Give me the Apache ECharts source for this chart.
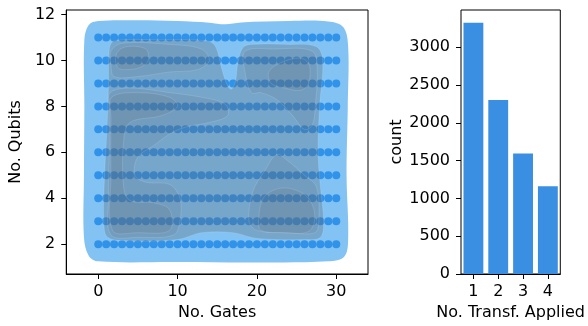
<!DOCTYPE html>
<html>
<head>
<meta charset="utf-8">
<script src="https://cdn.jsdelivr.net/npm/echarts@6/dist/echarts.min.js"></script>
<style>
  html, body { margin: 0; padding: 0; background: #fff; }
  #chart { width: 588px; height: 326px; }
</style>
</head>
<body>
<div id="chart"></div>
<script>
// scatter grid positions
const gateValues = [0, 1, 2, 3, 4, 5, 6, 7, 8, 9, 10, 11, 12, 13, 14, 15, 16, 17, 18, 19, 20,
  21, 22, 23, 24, 25, 26, 27, 28, 29, 30];
const qubitValues = [2, 3, 4, 5, 6, 7, 8, 9, 10, 11];

// density contours, [gates, qubits]
const blueContour = [[-1.75, 10.9], [-1.2, 11.55], [0, 11.72], [5, 11.75], [10, 11.72], [14, 11.65],
  [16, 11.58], [18, 11.66], [24, 11.72], [29, 11.7], [30.9, 11.45], [31.5, 10.6], [31.45, 8],
  [31.3, 5], [31.5, 2.2], [31, 1.45], [29, 1.25], [20, 1.2], [10, 1.22], [0, 1.25], [-1.2, 1.5],
  [-1.8, 2.3], [-1.8, 5], [-1.75, 8]];
const grayLevel1 = [[1.4, 10.5], [2.0, 10.85], [8, 10.9], [13.8, 10.85], [14.8, 10.6], [15.6, 9.6],
  [16.3, 8.9], [16.8, 8.75], [17.3, 9.1], [17.6, 9.9], [18.2, 10.55], [19.2, 10.7], [24, 10.7],
  [27.5, 10.6], [28.3, 10.0], [27.9, 8], [27.7, 6], [28.0, 4.5], [28.4, 3], [28.0, 2.3], [26, 2.2],
  [20, 2.25], [17, 2.5], [13, 2.5], [10, 2.2], [4, 2.15], [1.2, 2.3], [0.7, 3], [0.8, 5], [1.1, 7],
  [1.3, 9]];
const grayLevel2TopLeft = [[1.6, 10.4], [3, 10.75], [9, 10.7], [13, 10.5], [14, 10.0], [12.5, 9.6],
  [9, 9.5], [5, 9.3], [2, 9.3], [1.6, 9.8]];
const grayLevel2Left = [[1.5, 8.6], [4, 8.8], [9, 8.6], [13, 8.4], [16, 8.1], [16.3, 7.6], [14, 7.3],
  [11, 7.1], [9, 6.8], [7, 6.3], [5, 5.8], [4.6, 5.0], [6, 4.7], [9, 4.6], [10.3, 4.0], [10.3, 3],
  [9.5, 2.4], [5, 2.3], [1.6, 2.4], [1.3, 4], [1.4, 6], [1.4, 8]];
const grayLevel2TopRight = [[18.5, 10.4], [22, 10.5], [27, 10.4], [27.6, 9.5], [27.4, 8.2], [27, 7.2],
  [26, 7.0], [24.5, 7.6], [22.5, 8.3], [20.5, 8.6], [19.3, 8.6], [18.5, 9.5]];
const grayLevel2BottomRight = [[19, 3.0], [19.5, 4.3], [21, 5.2], [22.5, 5.9], [24, 5.6], [26, 5.0],
  [27.5, 4.5], [27.8, 3], [27.3, 2.5], [24, 2.5], [20, 2.6]];
const grayLevel3TopLeft = [[2.3, 10.3], [3.5, 10.6], [6, 10.5], [6.3, 10.0], [5.3, 9.7], [3.5, 9.6],
  [2.4, 9.7]];
const grayLevel3Left = [[1.7, 8.4], [5, 8.6], [9, 8.4], [10, 8.0], [8, 7.6], [4, 7.3], [3.2, 6.5],
  [3.2, 4.5], [4, 3.9], [7, 3.8], [9, 3.5], [9, 2.6], [5, 2.5], [1.8, 2.6], [1.6, 5], [1.6, 7.5]];
const grayLevel3TopRight = [[21.5, 9.5], [23, 9.9], [25.5, 10.1], [26.6, 9.8], [26.5, 9.0],
  [25.5, 8.7], [23.5, 8.8], [21.8, 9.0]];
const grayLevel3BottomRight = [[20.2, 3.0], [20.8, 4.0], [22.5, 4.4], [24.5, 4.4], [26.5, 4.0],
  [27.3, 3.2], [26.5, 2.55], [23, 2.5], [20.5, 2.6]];

const gateTicks = [0, 10, 20, 30];
const qubitTicks = [2, 4, 6, 8, 10, 12];

// right panel
const transfCategories = ['1', '2', '3', '4'];
const transfCounts = [3324, 2302, 1594, 1162];
const countTicks = [0, 500, 1000, 1500, 2000, 2500, 3000];

const baseGray = 'rgba(95,100,108,0.3)';
const stepGray = 'rgba(95,100,108,0.13)';
const grayContours = [
  { pts: grayLevel1, fill: baseGray },
  { pts: grayLevel2TopLeft, fill: stepGray },
  { pts: grayLevel2Left, fill: stepGray },
  { pts: grayLevel2TopRight, fill: stepGray },
  { pts: grayLevel2BottomRight, fill: stepGray },
  { pts: grayLevel3TopLeft, fill: stepGray },
  { pts: grayLevel3Left, fill: stepGray },
  { pts: grayLevel3TopRight, fill: stepGray },
  { pts: grayLevel3BottomRight, fill: stepGray }
];

const points = [];
qubitValues.forEach((q) => gateValues.forEach((g) => points.push([g, q])));

const font = 'DejaVu Sans';
const tickLabel = { color: '#000', fontFamily: font, fontSize: 16, formatter: (v) => String(v) };
const nameStyle = { color: '#000', fontFamily: font, fontSize: 16 };
const line = { onZero: false, lineStyle: { color: '#000', width: 1 } };

function contourItem(list, smooth) {
  return function (params, api) {
    const c = list[api.value(0)];
    return {
      type: 'polygon',
      shape: { points: c.pts.map((p) => api.coord(p)), smooth },
      style: { fill: c.fill, stroke: c.stroke || 'rgba(255,255,255,0.16)', lineWidth: 0.8 }
    };
  };
}

const chart = echarts.init(document.getElementById('chart'));
chart.setOption({
  animation: false,
  backgroundColor: '#fff',
  grid: [
    { left: 65, top: 10, width: 303, height: 267, show: true, borderColor: '#000', borderWidth: 1 },
    { left: 461, top: 10, width: 101, height: 267, show: true, borderColor: '#000', borderWidth: 1 }
  ],
  xAxis: [
    {
      gridIndex: 0, type: 'value', min: -4.03, max: 34.0,
      name: 'No. Gates', nameLocation: 'middle', nameGap: 31, nameTextStyle: nameStyle,
      axisLine: line, splitLine: { show: false },
      axisTick: { show: true, length: 5, customValues: gateTicks, lineStyle: { color: '#000' } },
      axisLabel: Object.assign({ margin: 10, customValues: gateTicks }, tickLabel)
    },
    {
      gridIndex: 1, type: 'category', data: transfCategories,
      name: 'No. Transf. Applied', nameLocation: 'middle', nameGap: 31, nameTextStyle: nameStyle,
      axisLine: line, splitLine: { show: false },
      axisTick: { show: true, length: 5, alignWithLabel: true, lineStyle: { color: '#000' } },
      axisLabel: Object.assign({ margin: 10 }, tickLabel)
    }
  ],
  yAxis: [
    {
      gridIndex: 0, type: 'value', min: 0.7, max: 12.2,
      name: 'No. Qubits', nameLocation: 'middle', nameGap: 38, nameTextStyle: nameStyle,
      axisLine: line, splitLine: { show: false },
      axisTick: { show: true, length: 5, customValues: qubitTicks, lineStyle: { color: '#000' } },
      axisLabel: Object.assign({ margin: 11, customValues: qubitTicks }, tickLabel)
    },
    {
      gridIndex: 1, type: 'value', min: 0, max: 3494,
      name: 'count', nameLocation: 'middle', nameGap: 56, nameTextStyle: nameStyle,
      axisLine: line, splitLine: { show: false },
      axisTick: { show: true, length: 5, customValues: countTicks, lineStyle: { color: '#000' } },
      axisLabel: Object.assign({ margin: 11, customValues: countTicks }, tickLabel)
    }
  ],
  series: [
    {
      type: 'custom', xAxisIndex: 0, yAxisIndex: 0, z: 1, silent: true,
      renderItem: contourItem([{ pts: blueContour, fill: '#82c3f4', stroke: 'none' }], 0.35),
      data: [[0]]
    },
    {
      type: 'scatter', xAxisIndex: 0, yAxisIndex: 0, z: 2,
      symbolSize: 8,
      itemStyle: { color: '#1e88e5', opacity: 0.82 },
      data: points
    },
    {
      type: 'custom', xAxisIndex: 0, yAxisIndex: 0, z: 3, silent: true,
      renderItem: contourItem(grayContours, 0.35),
      data: grayContours.map((c, i) => [i])
    },
    {
      type: 'bar', xAxisIndex: 1, yAxisIndex: 1,
      barWidth: '80%',
      itemStyle: { color: '#3a8fe2' },
      data: transfCounts
    }
  ]
});
</script>
</body>
</html>
